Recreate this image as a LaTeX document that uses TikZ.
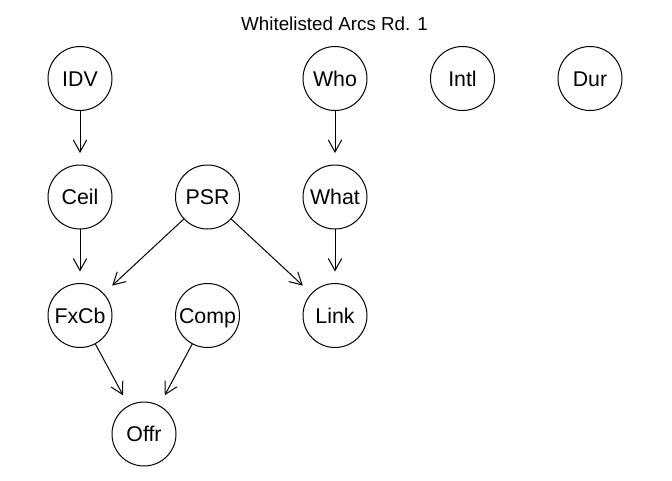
\documentclass[tikz,border=0pt]{standalone}
\usepackage{fontspec}
\setmainfont{Liberation Sans}
\usetikzlibrary{arrows.meta}
\tikzset{
  bn/.style={circle,draw,line width=0.75pt,minimum size=48pt,inner sep=0pt,outer sep=0pt,
    text height=11.4pt,text depth=0pt,font=\fontsize{16pt}{18pt}\selectfont},
  arc/.style={line width=0.75pt,-{Straight Barb[length=9pt,width=10pt,line width=0.75pt]},shorten >=9pt}
}
\begin{document}
\begin{tikzpicture}[x=0.75pt,y=-0.75pt]
\useasboundingbox (0,0) rectangle (672,480);
\node[font=\fontsize{14.1pt}{16pt}\selectfont] (title) at (334.5,24) {Whitelisted Arcs Rd. 1};
\node[bn] (IDV) at (80,78.5) {IDV};
\node[bn] (Who) at (335,78.5) {Who};
\node[bn] (Intl) at (462.5,78.5) {Intl};
\node[bn] (Dur) at (590,78.5) {Dur};
\node[bn] (Ceil) at (80,197) {Ceil};
\node[bn] (PSR) at (207.5,197) {PSR};
\node[bn] (What) at (335,197) {What};
\node[bn] (FxCb) at (80,315.5) {FxCb};
\node[bn] (Comp) at (207.5,315.5) {Comp};
\node[bn] (Link) at (335,315.5) {Link};
\node[bn] (Offr) at (144,434) {Offr};
\draw[arc] (IDV) -- (Ceil);
\draw[arc] (Ceil) -- (FxCb);
\draw[arc] (PSR) -- (FxCb);
\draw[arc] (PSR) -- (Link);
\draw[arc] (Who) -- (What);
\draw[arc] (What) -- (Link);
\draw[arc] (FxCb) -- (Offr);
\draw[arc] (Comp) -- (Offr);
\end{tikzpicture}
\end{document}
